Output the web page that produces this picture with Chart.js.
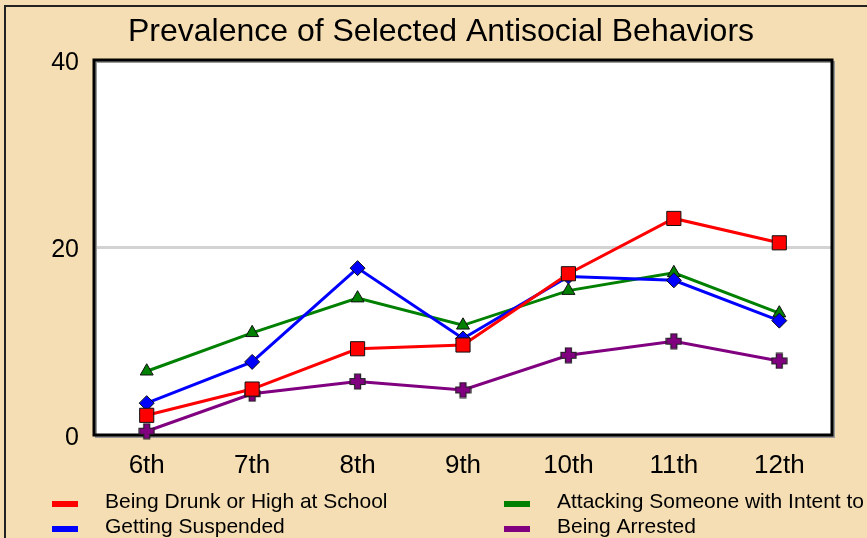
<!DOCTYPE html>
<html>
<head>
<meta charset="utf-8">
<script src="https://cdn.jsdelivr.net/npm/chart.js@4"></script>
<style>
  html, body { margin: 0; padding: 0; overflow: hidden; background: #f5deb3; }
  #wrap { width: 867px; height: 538px; position: relative; }
</style>
</head>
<body>
<div id="wrap"><canvas id="chart" width="867" height="538"></canvas></div>
<script>
const grades = ['6th', '7th', '8th', '9th', '10th', '11th', '12th'];
const drunkAtSchool = [2.1, 4.9, 9.2, 9.6, 17.2, 23.1, 20.5];
const suspended = [3.4, 7.8, 17.8, 10.3, 16.9, 16.5, 12.2];
const attacking = [6.8, 10.9, 14.6, 11.7, 15.4, 17.3, 13.0];
const arrested = [0.4, 4.4, 5.7, 4.8, 8.5, 10.0, 7.9];
const yTicks = [0, 20, 40];

const chartTitle = 'Prevalence of Selected Antisocial Behaviors';
const FONT = '"Liberation Sans", Arial, sans-serif';

// fat plus marker with a dark outline
function plusMarker(color) {
    const c = document.createElement('canvas');
    c.width = 17; c.height = 17;
    const g = c.getContext('2d');
    const a = 5.5, b = 11.5, e = 16;
    g.beginPath();
    g.moveTo(a, 1); g.lineTo(b, 1); g.lineTo(b, a); g.lineTo(e, a); g.lineTo(e, b);
    g.lineTo(b, b); g.lineTo(b, e); g.lineTo(a, e); g.lineTo(a, b); g.lineTo(1, b);
    g.lineTo(1, a); g.lineTo(a, a); g.closePath();
    g.fillStyle = color;
    g.fill();
    g.lineWidth = 1.2;
    g.strokeStyle = '#222';
    g.stroke();
    return c;
}

function series(label, data, color, style, radius) {
    return {
        label: label,
        data: data,
        borderColor: color,
        backgroundColor: color,
        borderWidth: 3,
        pointStyle: style,
        pointRadius: radius,
        pointHoverRadius: radius,
        pointBackgroundColor: color,
        pointBorderColor: '#111',
        pointBorderWidth: 1,
        tension: 0,
        clip: false
    };
}

const datasets = [
    series('Being Drunk or High at School', drunkAtSchool, '#ff0000', 'rect', 10),
    series('Getting Suspended', suspended, '#0000ff', 'rectRot', 7.5),
    series('Attacking Someone with Intent to Harm', attacking, '#008000', 'triangle', 7.5),
    series('Being Arrested', arrested, '#800080', plusMarker('#800080'), 8)
];

const frame = {
    id: 'frame',
    beforeDraw(chart) {
        const ctx = chart.ctx;
        ctx.save();
        ctx.fillStyle = '#f5deb3';
        ctx.fillRect(0, 0, chart.width, chart.height);
        ctx.strokeStyle = '#222';
        ctx.lineWidth = 2;
        ctx.strokeRect(5, 6, chart.width + 20, chart.height + 20);
        const a = chart.chartArea;
        ctx.fillStyle = '#ffffff';
        ctx.fillRect(a.left, a.top, a.right - a.left, a.bottom - a.top);
        // title
        ctx.fillStyle = '#000';
        ctx.font = '32px ' + FONT;
        ctx.textAlign = 'center';
        ctx.textBaseline = 'alphabetic';
        ctx.fillText(chartTitle, 441, 41);
        ctx.restore();
    },
    beforeDatasetsDraw(chart) {
        const ctx = chart.ctx;
        const a = chart.chartArea;
        ctx.save();
        ctx.strokeStyle = '#999';
        ctx.lineWidth = 2;
        ctx.strokeRect(a.left + 2, a.top + 2, a.right - a.left, a.bottom - a.top);
        ctx.strokeStyle = '#000';
        ctx.lineWidth = 3;
        ctx.strokeRect(a.left, a.top, a.right - a.left, a.bottom - a.top);
        ctx.restore();
    },
    afterDraw(chart) {
        // two-column legend
        const ctx = chart.ctx;
        ctx.save();
        ctx.font = '21px ' + FONT;
        ctx.textAlign = 'left';
        ctx.textBaseline = 'alphabetic';
        chart.data.datasets.forEach((ds, i) => {
            const col = Math.floor(i / 2);
            const row = i % 2;
            const x = col === 0 ? 52 : 504;
            const y = 508 + row * 25;
            ctx.fillStyle = ds.borderColor;
            ctx.fillRect(x, y - 7, 26, 6);
            ctx.fillStyle = '#000';
            ctx.fillText(ds.label, x + 53, y);
        });
        ctx.restore();
    }
};

new Chart(document.getElementById('chart'), {
    type: 'line',
    data: { labels: grades, datasets: datasets },
    plugins: [frame],
    options: {
        responsive: false,
        animation: false,
        layout: { padding: { left: 0, top: 60, right: 35, bottom: 0 } },
        plugins: {
            legend: { display: false },
            title: { display: false },
            tooltip: { enabled: false }
        },
        scales: {
            x: {
                offset: true,
                grid: { display: false, drawTicks: false },
                border: { display: false },
                ticks: { color: '#000', font: { family: FONT, size: 26 }, padding: 15 },
                afterFit(scale) { scale.height = 103; }
            },
            y: {
                min: 0,
                max: 40,
                afterBuildTicks(scale) { scale.ticks = yTicks.map(v => ({ value: v })); },
                grid: { color: '#d3d3d3', lineWidth: 3, drawTicks: false },
                border: { display: false },
                ticks: { color: '#000', font: { family: FONT, size: 25 }, padding: 15, labelOffset: 3 },
                afterFit(scale) { scale.width = 94; }
            }
        }
    }
});
</script>
</body>
</html>
